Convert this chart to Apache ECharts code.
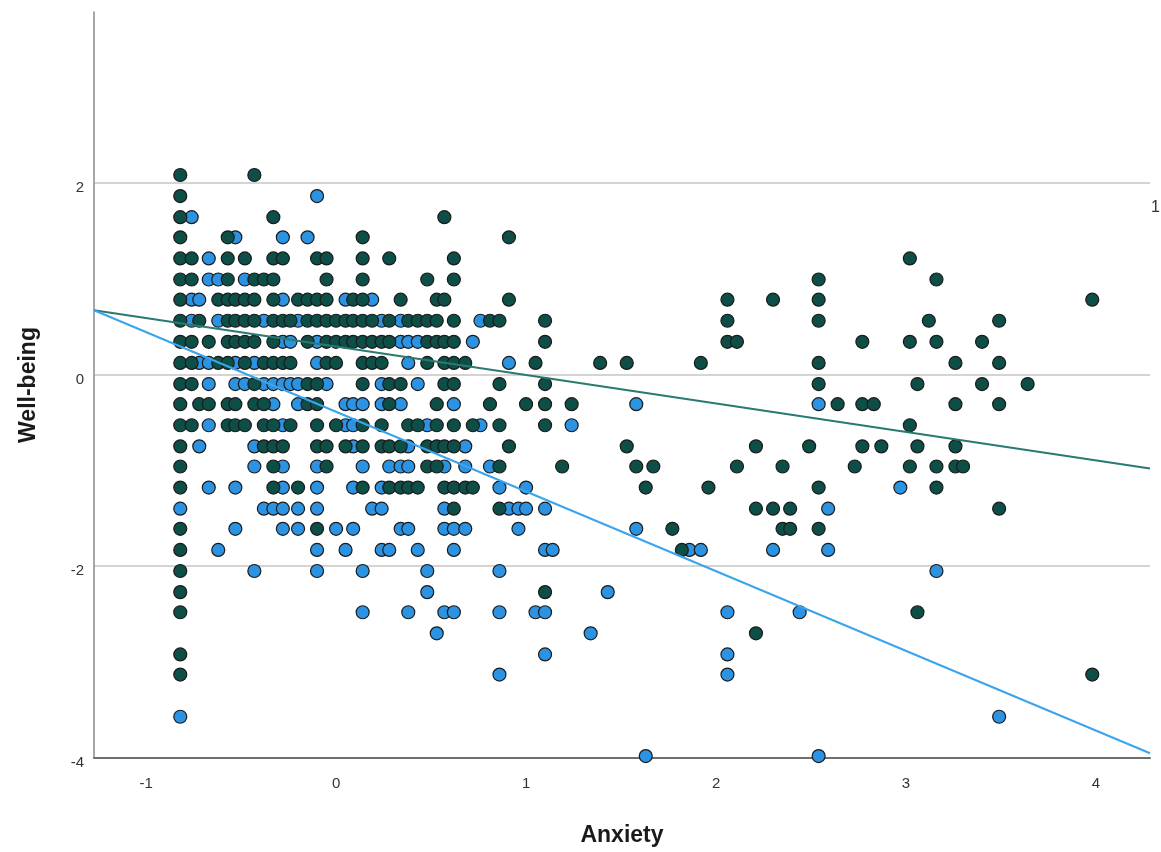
<!DOCTYPE html>
<html>
<head>
<meta charset="utf-8">
<script src="https://cdn.jsdelivr.net/npm/echarts@6/dist/echarts.min.js"></script>
<style>
  html, body { margin: 0; padding: 0; background: #fff; }
  #chart { width: 1161px; height: 852px; }
</style>
</head>
<body>
<div id="chart"></div>
<script>
// Axis ranges and tick labels
const xRange = [-1.274, 4.284];
const yRange = [-4, 3.78];
const xTicks = [-1, 0, 1, 2, 3, 4];
const yTicks = [-4, -2, 0, 2];

// Group 1 (dark teal) points [Anxiety, Well-being]
const darkPoints = [
  [-0.82,2.08],[-0.43,2.08],
  [-0.82,1.86],
  [-0.82,1.64],[-0.33,1.64],[0.57,1.64],
  [-0.82,1.43],[-0.57,1.43],[0.14,1.43],[0.91,1.43],
  [-0.82,1.21],[-0.76,1.21],[-0.57,1.21],[-0.48,1.21],[-0.33,1.21],[-0.28,1.21],[-0.10,1.21],[-0.05,1.21],[0.14,1.21],[0.28,1.21],[0.62,1.21],[3.02,1.21],
  [-0.82,0.99],[-0.76,0.99],[-0.57,0.99],[-0.43,0.99],[-0.38,0.99],[-0.33,0.99],[-0.05,0.99],[0.14,0.99],[0.48,0.99],[0.62,0.99],[2.54,0.99],[3.16,0.99],
  [-0.82,0.78],[-0.62,0.78],[-0.57,0.78],[-0.53,0.78],[-0.48,0.78],[-0.43,0.78],[-0.33,0.78],[-0.20,0.78],[-0.15,0.78],[-0.10,0.78],[-0.05,0.78],[0.09,0.78],[0.14,0.78],[0.34,0.78],[0.53,0.78],[0.57,0.78],[0.91,0.78],[2.06,0.78],[2.30,0.78],[2.54,0.78],[3.98,0.78],
  [-0.82,0.56],[-0.72,0.56],[-0.57,0.56],[-0.53,0.56],[-0.48,0.56],[-0.43,0.56],[-0.33,0.56],[-0.28,0.56],[-0.24,0.56],[-0.15,0.56],[-0.10,0.56],[-0.05,0.56],[0.00,0.56],[0.05,0.56],[0.09,0.56],[0.14,0.56],[0.19,0.56],[0.28,0.56],[0.38,0.56],[0.43,0.56],[0.48,0.56],[0.53,0.56],[0.62,0.56],[0.81,0.56],[0.86,0.56],[1.10,0.56],[2.06,0.56],[2.54,0.56],[3.12,0.56],[3.49,0.56],
  [-0.82,0.34],[-0.76,0.34],[-0.67,0.34],[-0.57,0.34],[-0.53,0.34],[-0.48,0.34],[-0.43,0.34],[-0.33,0.34],[-0.15,0.34],[-0.05,0.34],[0.00,0.34],[0.05,0.34],[0.09,0.34],[0.14,0.34],[0.19,0.34],[0.24,0.34],[0.28,0.34],[0.48,0.34],[0.53,0.34],[0.57,0.34],[0.62,0.34],[1.10,0.34],[2.06,0.34],[2.11,0.34],[2.77,0.34],[3.02,0.34],[3.16,0.34],[3.40,0.34],
  [-0.82,0.12],[-0.76,0.12],[-0.62,0.12],[-0.57,0.12],[-0.48,0.12],[-0.38,0.12],[-0.33,0.12],[-0.28,0.12],[-0.24,0.12],[-0.05,0.12],[0.00,0.12],[0.14,0.12],[0.19,0.12],[0.24,0.12],[0.48,0.12],[0.57,0.12],[0.62,0.12],[0.68,0.12],[1.05,0.12],[1.39,0.12],[1.53,0.12],[1.92,0.12],[2.54,0.12],[3.26,0.12],[3.49,0.12],
  [-0.82,-0.10],[-0.76,-0.10],[-0.43,-0.10],[-0.15,-0.10],[-0.10,-0.10],[0.14,-0.10],[0.28,-0.10],[0.34,-0.10],[0.57,-0.10],[0.62,-0.10],[0.86,-0.10],[1.10,-0.10],[2.54,-0.10],[3.06,-0.10],[3.40,-0.10],[3.64,-0.10],
  [-0.82,-0.31],[-0.72,-0.31],[-0.67,-0.31],[-0.57,-0.31],[-0.53,-0.31],[-0.43,-0.31],[-0.38,-0.31],[-0.15,-0.31],[-0.10,-0.31],[0.28,-0.31],[0.53,-0.31],[0.81,-0.31],[1.00,-0.31],[1.10,-0.31],[1.24,-0.31],[2.64,-0.31],[2.77,-0.31],[2.83,-0.31],[3.26,-0.31],[3.49,-0.31],
  [-0.82,-0.53],[-0.76,-0.53],[-0.57,-0.53],[-0.53,-0.53],[-0.48,-0.53],[-0.38,-0.53],[-0.33,-0.53],[-0.24,-0.53],[-0.10,-0.53],[0.00,-0.53],[0.14,-0.53],[0.24,-0.53],[0.38,-0.53],[0.43,-0.53],[0.53,-0.53],[0.62,-0.53],[0.72,-0.53],[0.86,-0.53],[1.10,-0.53],[3.02,-0.53],
  [-0.82,-0.75],[-0.38,-0.75],[-0.33,-0.75],[-0.28,-0.75],[-0.10,-0.75],[-0.05,-0.75],[0.05,-0.75],[0.14,-0.75],[0.24,-0.75],[0.28,-0.75],[0.34,-0.75],[0.48,-0.75],[0.53,-0.75],[0.57,-0.75],[0.62,-0.75],[0.91,-0.75],[1.53,-0.75],[2.21,-0.75],[2.49,-0.75],[2.77,-0.75],[2.87,-0.75],[3.06,-0.75],[3.26,-0.75],
  [-0.82,-0.96],[-0.33,-0.96],[-0.05,-0.96],[0.48,-0.96],[0.53,-0.96],[0.86,-0.96],[1.19,-0.96],[1.58,-0.96],[1.67,-0.96],[2.11,-0.96],[2.35,-0.96],[2.73,-0.96],[3.02,-0.96],[3.16,-0.96],[3.26,-0.96],[3.30,-0.96],
  [-0.82,-1.18],[-0.33,-1.18],[-0.20,-1.18],[0.14,-1.18],[0.28,-1.18],[0.34,-1.18],[0.38,-1.18],[0.43,-1.18],[0.57,-1.18],[0.62,-1.18],[0.68,-1.18],[0.72,-1.18],[1.63,-1.18],[1.96,-1.18],[2.54,-1.18],[3.16,-1.18],
  [0.62,-1.40],[0.86,-1.40],[2.21,-1.40],[2.30,-1.40],[2.39,-1.40],[3.49,-1.40],
  [-0.82,-1.61],[-0.10,-1.61],[1.77,-1.61],[2.35,-1.61],[2.39,-1.61],[2.54,-1.61],
  [-0.82,-1.83],[1.82,-1.83],
  [-0.82,-2.05],
  [-0.82,-2.27],[1.10,-2.27],
  [-0.82,-2.48],[3.06,-2.48],
  [2.21,-2.70],
  [-0.82,-2.92],
  [-0.82,-3.13],[3.98,-3.13]
];

// Group 2 (blue) points [Anxiety, Well-being]
const bluePoints = [
  [-0.10,1.86],
  [-0.76,1.64],
  [-0.53,1.43],[-0.28,1.43],[-0.15,1.43],
  [-0.67,1.21],
  [-0.67,0.99],[-0.62,0.99],[-0.48,0.99],
  [-0.76,0.78],[-0.72,0.78],[-0.28,0.78],[0.05,0.78],[0.19,0.78],
  [-0.76,0.56],[-0.62,0.56],[-0.38,0.56],[-0.20,0.56],[0.24,0.56],[0.34,0.56],[0.76,0.56],
  [-0.28,0.34],[-0.24,0.34],[-0.10,0.34],[0.34,0.34],[0.38,0.34],[0.43,0.34],[0.72,0.34],
  [-0.72,0.12],[-0.67,0.12],[-0.53,0.12],[-0.43,0.12],[-0.10,0.12],[0.38,0.12],[0.91,0.12],
  [-0.67,-0.10],[-0.53,-0.10],[-0.48,-0.10],[-0.38,-0.10],[-0.33,-0.10],[-0.28,-0.10],[-0.24,-0.10],[-0.20,-0.10],[-0.05,-0.10],[0.24,-0.10],[0.43,-0.10],
  [-0.33,-0.31],[-0.20,-0.31],[0.05,-0.31],[0.09,-0.31],[0.14,-0.31],[0.24,-0.31],[0.34,-0.31],[0.62,-0.31],[1.58,-0.31],[2.54,-0.31],
  [-0.67,-0.53],[-0.28,-0.53],[0.05,-0.53],[0.09,-0.53],[0.48,-0.53],[0.76,-0.53],[1.24,-0.53],
  [-0.72,-0.75],[-0.43,-0.75],[0.09,-0.75],[0.38,-0.75],[0.68,-0.75],
  [-0.43,-0.96],[-0.28,-0.96],[-0.10,-0.96],[0.14,-0.96],[0.28,-0.96],[0.34,-0.96],[0.38,-0.96],[0.57,-0.96],[0.68,-0.96],[0.81,-0.96],
  [-0.67,-1.18],[-0.53,-1.18],[-0.28,-1.18],[-0.10,-1.18],[0.09,-1.18],[0.24,-1.18],[0.86,-1.18],[1.00,-1.18],[2.97,-1.18],
  [-0.82,-1.40],[-0.38,-1.40],[-0.33,-1.40],[-0.28,-1.40],[-0.20,-1.40],[-0.10,-1.40],[0.19,-1.40],[0.24,-1.40],[0.57,-1.40],[0.91,-1.40],[0.96,-1.40],[1.00,-1.40],[1.10,-1.40],[2.59,-1.40],
  [-0.53,-1.61],[-0.28,-1.61],[-0.20,-1.61],[0.00,-1.61],[0.09,-1.61],[0.34,-1.61],[0.38,-1.61],[0.57,-1.61],[0.62,-1.61],[0.68,-1.61],[0.96,-1.61],[1.58,-1.61],
  [-0.62,-1.83],[-0.10,-1.83],[0.05,-1.83],[0.24,-1.83],[0.28,-1.83],[0.43,-1.83],[0.62,-1.83],[1.10,-1.83],[1.14,-1.83],[1.86,-1.83],[1.92,-1.83],[2.30,-1.83],[2.59,-1.83],
  [-0.43,-2.05],[-0.10,-2.05],[0.14,-2.05],[0.48,-2.05],[0.86,-2.05],[3.16,-2.05],
  [0.48,-2.27],[1.43,-2.27],
  [0.14,-2.48],[0.38,-2.48],[0.57,-2.48],[0.62,-2.48],[0.86,-2.48],[1.05,-2.48],[1.10,-2.48],[2.06,-2.48],[2.44,-2.48],
  [0.53,-2.70],[1.34,-2.70],
  [1.10,-2.92],[2.06,-2.92],
  [0.86,-3.13],[2.06,-3.13],
  [-0.82,-3.57],[3.49,-3.57],
  [1.63,-3.98],[2.54,-3.98]
];

// Linear fit lines, endpoints at the plot edges
const darkFit = [[-1.274, 0.67], [4.284, -0.98]];
const blueFit = [[-1.274, 0.67], [4.284, -3.95]];

const chart = echarts.init(document.getElementById('chart'), null, { renderer: 'canvas' });
const FONT = '"Liberation Sans", Arial, sans-serif';

chart.setOption({
  animation: false,
  backgroundColor: '#ffffff',
  grid: { left: 94, right: 11, top: 12, bottom: 94, containLabel: false },
  xAxis: {
    type: 'value',
    min: xRange[0],
    max: xRange[1],
    name: 'Anxiety',
    nameLocation: 'middle',
    nameGap: 66,
    nameTextStyle: { fontFamily: FONT, fontSize: 23, fontWeight: 'bold', color: '#1a1a1a' },
    axisLine: { show: true, onZero: false, lineStyle: { color: '#6e6e6e', width: 2 } },
    axisTick: { show: false },
    splitLine: { show: false },
    axisLabel: {
      margin: 18,
      fontFamily: FONT, fontSize: 15, color: '#333',
      formatter: function (v) { return xTicks.indexOf(Math.round(v * 1000) / 1000) >= 0 ? String(v) : ''; }
    }
  },
  yAxis: {
    type: 'value',
    min: yRange[0],
    max: yRange[1],
    interval: 2,
    name: 'Well-being',
    nameLocation: 'middle',
    nameGap: 54,
    nameTextStyle: { fontFamily: FONT, fontSize: 23, fontWeight: 'bold', color: '#1a1a1a' },
    axisLine: { show: true, onZero: false, lineStyle: { color: '#8a8a8a', width: 1.5 } },
    axisTick: { show: false },
    splitLine: { show: true, showMinLine: false, showMaxLine: false, lineStyle: { color: '#c6c6c6', width: 1.5 } },
    axisLabel: {
      margin: 10,
      verticalAlign: 'top',
      lineHeight: 10,
      fontFamily: FONT, fontSize: 15, color: '#333',
      formatter: function (v) { return yTicks.indexOf(Math.round(v * 1000) / 1000) >= 0 ? String(v) : ''; }
    }
  },
  series: [
    {
      name: 'group2',
      type: 'scatter',
      data: bluePoints,
      symbol: 'circle',
      symbolSize: 13,
      itemStyle: { color: '#2b93e2', borderColor: '#1b1b1b', borderWidth: 1.2, opacity: 1 },
      z: 2
    },
    {
      name: 'group1',
      type: 'scatter',
      data: darkPoints,
      symbol: 'circle',
      symbolSize: 13,
      itemStyle: { color: '#0d4e47', borderColor: '#1b1b1b', borderWidth: 1.2, opacity: 1 },
      z: 3
    },
    {
      name: 'fit1',
      type: 'line',
      data: darkFit,
      showSymbol: false,
      symbol: 'none',
      lineStyle: { color: '#2a7a6f', width: 2 },
      z: 5
    },
    {
      name: 'fit2',
      type: 'line',
      data: blueFit,
      showSymbol: false,
      symbol: 'none',
      lineStyle: { color: '#3aa4ec', width: 2 },
      z: 5
    }
  ],
  graphic: [
    {
      type: 'text',
      left: 1151,
      top: 200,
      style: { text: '1', font: '16px "Liberation Sans", Arial, sans-serif', fill: '#333' }
    }
  ]
});
</script>
</body>
</html>
